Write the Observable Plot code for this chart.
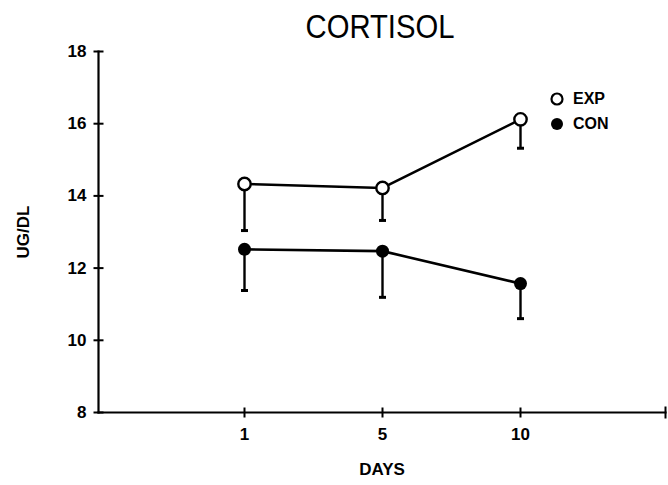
<!DOCTYPE html>
<html>
<head>
<meta charset="utf-8">
<script src="https://cdn.jsdelivr.net/npm/d3@7"></script>
<script src="https://cdn.jsdelivr.net/npm/@observablehq/plot@0.6"></script>
<style>
  html, body { margin: 0; padding: 0; background: #fff; }
  #wrap { position: relative; width: 668px; height: 485px; overflow: hidden; font-family: "Liberation Sans", Arial, sans-serif; color: #000; }
  #title { position: absolute; top: 6px; left: 380px; line-height: 40px; font-size: 34px; white-space: nowrap; transform: translateX(-50%) scaleX(0.86); }
  #chart { position: absolute; top: 40px; left: 0; }
  #legend { position: absolute; left: 549px; top: 86px; font-size: 16px; font-weight: bold; line-height: 25px; }
  #legend div { display: flex; align-items: center; }
  #legend svg { margin-right: 8px; }
</style>
</head>
<body>
<div id="wrap">
  <div id="title">CORTISOL</div>
  <div id="chart"></div>
  <div id="legend">
    <div><svg width="16" height="16"><circle cx="8" cy="8" r="5.5" fill="#fff" stroke="#000" stroke-width="2.2"/></svg>EXP</div>
    <div><svg width="16" height="16"><circle cx="8" cy="8" r="6" fill="#000"/></svg>CON</div>
  </div>
</div>
<script>
const days = ["1", "5", "10"];
const expMean = [14.33, 14.22, 16.12];
const expLow  = [13.04, 13.32, 15.32];
const conMean = [12.52, 12.47, 11.57];
const conLow  = [11.38, 11.19, 10.60];
const yTicks = [8, 10, 12, 14, 16, 18];

const rows = (mean, low, group) => days.map((d, i) => ({day: d, mean: mean[i], low: low[i], group}));
const exp = rows(expMean, expLow, "EXP");
const con = rows(conMean, conLow, "CON");

const hLine = {draw(ctx, size) { const r = Math.sqrt(size / Math.PI); ctx.moveTo(-r, 0); ctx.lineTo(r, 0); }};
const vLine = {draw(ctx, size) { const r = Math.sqrt(size / Math.PI); ctx.moveTo(0, -r); ctx.lineTo(0, r); }};

const chart = Plot.plot({
  width: 668,
  height: 445,
  marginLeft: 98,
  marginRight: 3,
  marginTop: 11,
  marginBottom: 73,
  style: {fontFamily: "'Liberation Sans', Arial, sans-serif", fontSize: "17px", fontWeight: "bold", color: "#000", background: "transparent"},
  x: {type: "point", domain: days, padding: 1.05, label: "DAYS", labelArrow: false, labelAnchor: "center", labelOffset: 62, tickSize: 0, tickPadding: 15},
  y: {domain: [8, 18], ticks: yTicks, label: "UG/DL", labelArrow: false, labelAnchor: "center", labelOffset: 82, tickSize: 0, tickPadding: 12},
  marks: [
    Plot.frame({anchor: "left", stroke: "#000", strokeWidth: 2.2}),
    Plot.frame({anchor: "bottom", stroke: "#000", strokeWidth: 2.2}),
    Plot.dot(yTicks, {y: d => d, frameAnchor: "left", symbol: hLine, r: 5, fill: "none", stroke: "#000", strokeWidth: 2}),
    Plot.dot(days, {x: d => d, frameAnchor: "bottom", symbol: vLine, r: 5, fill: "none", stroke: "#000", strokeWidth: 2}),
    Plot.dot([0], {y: null, frameAnchor: "bottom-right", symbol: vLine, r: 6, fill: "none", stroke: "#000", strokeWidth: 2}),
    Plot.ruleX(exp, {x: "day", y1: "mean", y2: "low", stroke: "#000", strokeWidth: 2.4}),
    Plot.ruleX(con, {x: "day", y1: "mean", y2: "low", stroke: "#000", strokeWidth: 2.4}),
    Plot.dot(exp, {x: "day", y: "low", symbol: hLine, r: 3.5, fill: "none", stroke: "#000", strokeWidth: 3}),
    Plot.dot(con, {x: "day", y: "low", symbol: hLine, r: 3.5, fill: "none", stroke: "#000", strokeWidth: 3}),
    Plot.line(exp, {x: "day", y: "mean", stroke: "#000", strokeWidth: 2.6}),
    Plot.line(con, {x: "day", y: "mean", stroke: "#000", strokeWidth: 2.6}),
    Plot.dot(exp, {x: "day", y: "mean", r: 6.2, fill: "#fff", stroke: "#000", strokeWidth: 2.4}),
    Plot.dot(con, {x: "day", y: "mean", r: 6.5, fill: "#000", stroke: "none"})
  ]
});
document.getElementById("chart").appendChild(chart);
</script>
</body>
</html>
